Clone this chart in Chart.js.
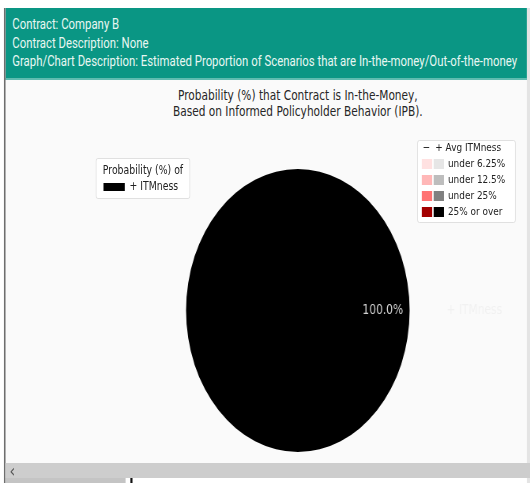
<!DOCTYPE html>
<html>
<head>
<meta charset="utf-8">
<script src="https://cdn.jsdelivr.net/npm/chart.js@4.4.1/dist/chart.umd.min.js"></script>
<style>
  html, body { margin: 0; padding: 0; width: 530px; height: 483px; overflow: hidden; background: #ffffff; }
  #stage { position: absolute; left: 0; top: 0; width: 671px; height: 483px; transform: scaleX(0.79); transform-origin: 0 0; }
  .abs { position: absolute; }
  #leftbar { left: 5px; top: 8px; width: 1.5px; height: 475px; background: #6e6e6e; }
  #content { left: 6.5px; top: 8px; width: 660px; height: 455px; background: #fafafa; }
  #rightedge { left: 667px; top: 8px; width: 4px; height: 475px; background: #e4e4e4; }
  #header { left: 6.5px; top: 8px; width: 660px; height: 70px; background: #0a9684; border-bottom: 2px solid #5fbcb0; }
  .hline { position: absolute; left: 9px; font-family: Roboto, sans-serif; font-size: 14.4px; color: #e8f6f2; white-space: nowrap; }
  #title { left: 127px; width: 500px; top: 88px; text-align: center; font-family: "DejaVu Sans", sans-serif; font-size: 13.4px; line-height: 15.5px; color: #262626; }
  .legend { position: absolute; background: #ffffff; border: 1px solid #dcdcdc; border-radius: 3px; font-family: "DejaVu Sans", sans-serif; color: #222; }
  #scroll { left: 6.5px; top: 463px; width: 664px; height: 15px; background: #cdcdcd; }
  #scrollArrow { left: 12px; top: 460px; font-family: "DejaVu Sans", sans-serif; font-size: 18px; color: #555; }
  #bottomL { left: 6.5px; top: 478px; width: 152px; height: 5px; background: #c4c4c4; }
  #bottomTick { left: 165px; top: 478px; width: 2.5px; height: 5px; background: #111; }
  #chartBox { left: 117px; top: 168.5px; width: 520px; height: 283px; }
</style>
</head>
<body>
<div id="stage">
  <div class="abs" id="content"></div>
  <div class="abs" id="header">
    <div class="hline" style="top:8px">Contract: Company B</div>
    <div class="hline" style="top:27px">Contract Description: None</div>
    <div class="hline" style="top:45px">Graph/Chart Description: Estimated Proportion of Scenarios that are In-the-money/Out-of-the-money</div>
  </div>
  <div class="abs" id="leftbar"></div>
  <div class="abs" id="rightedge"></div>
  <div class="abs" id="title">Probability (%) that Contract is In-the-Money,<br>Based on Informed Policyholder Behavior (IPB).</div>
  <div class="abs" id="chartBox"><canvas id="c" width="520" height="283"></canvas></div>
  <div id="legendLeft" class="legend" style="left:121px; top:158px; width:118px; height:39px; font-size:11.8px;"></div>
  <div id="legendRight" class="legend" style="left:528px; top:140px; width:123px; height:81px; font-size:11.3px;"></div>
  <div class="abs" id="scroll"></div>
  <div class="abs" id="scrollArrow">‹</div>
  <div class="abs" id="bottomL"></div>
  <div class="abs" id="bottomTick"></div>
</div>
<script>
// ---- data ----
const categories = ['+ ITMness'];
const values = [100];
const sliceColors = ['#000000'];
const legendTitle = 'Probability (%) of';
const avgHeader = ['−', '+', 'Avg ITMness'];
const avgLabels = ['under 6.25%', 'under 12.5%', 'under 25%', '25% or over'];
const minusColors = ['#ffe1e1', '#ffb7b7', '#ff7272', '#a30000'];
const plusColors = ['#e6e6e6', '#bdbdbd', '#808080', '#000000'];

// ---- legends (HTML text) ----
(function () {
  const L = document.getElementById('legendLeft');
  let h = '<div style="position:absolute;left:0;width:118px;top:4px;text-align:center;">' + legendTitle + '</div>';
  categories.forEach((cat, i) => {
    h += '<div style="position:absolute;left:9px;top:' + (24 + i * 14) + 'px;width:27px;height:8px;background:' + sliceColors[i] + '"></div>';
    h += '<div style="position:absolute;left:42px;top:' + (20 + i * 14) + 'px;white-space:nowrap;">' + cat + '</div>';
  });
  L.innerHTML = h;

  const R = document.getElementById('legendRight');
  let r = '';
  r += '<div style="position:absolute;left:6px;top:0px;">' + avgHeader[0] + '</div>';
  r += '<div style="position:absolute;left:22px;top:0px;">' + avgHeader[1] + '</div>';
  r += '<div style="position:absolute;left:35px;top:0px;white-space:nowrap;">' + avgHeader[2] + '</div>';
  avgLabels.forEach((lab, i) => {
    const y = 16 + i * 16;
    r += '<div style="position:absolute;left:5px;top:' + (y + 2) + 'px;width:13px;height:10px;background:' + minusColors[i] + '"></div>';
    r += '<div style="position:absolute;left:20px;top:' + (y + 2) + 'px;width:13px;height:10px;background:' + plusColors[i] + '"></div>';
    r += '<div style="position:absolute;left:38px;top:' + y + 'px;white-space:nowrap;">' + lab + '</div>';
  });
  R.innerHTML = r;
})();

// ---- pie labels plugin ----
const pieLabels = {
  id: 'pieLabels',
  afterDatasetsDraw(chart) {
    const ctx = chart.ctx;
    const meta = chart.getDatasetMeta(0);
    const total = values.reduce((a, b) => a + b, 0);
    meta.data.forEach((arc, i) => {
      const cx = arc.x, cy = arc.y, R = arc.outerRadius;
      ctx.save();
      ctx.font = '13.5px "DejaVu Sans"';
      ctx.textBaseline = 'middle';
      ctx.textAlign = 'center';
      ctx.fillStyle = '#d2d2d2';
      ctx.fillText((values[i] / total * 100).toFixed(1) + '%', cx + 0.76 * R, cy);
      ctx.textAlign = 'left';
      ctx.fillStyle = '#f1f1f1';
      ctx.fillText(categories[i], cx + 1.33 * R, cy);
      ctx.restore();
    });
  }
};

new Chart(document.getElementById('c'), {
  type: 'pie',
  data: {
    labels: categories,
    datasets: [{ data: values, backgroundColor: sliceColors, borderWidth: 0 }]
  },
  options: {
    responsive: false,
    animation: false,
    layout: { padding: 0 },
    plugins: { legend: { display: false }, tooltip: { enabled: false }, title: { display: false } }
  },
  plugins: [pieLabels]
});
</script>
</body>
</html>
